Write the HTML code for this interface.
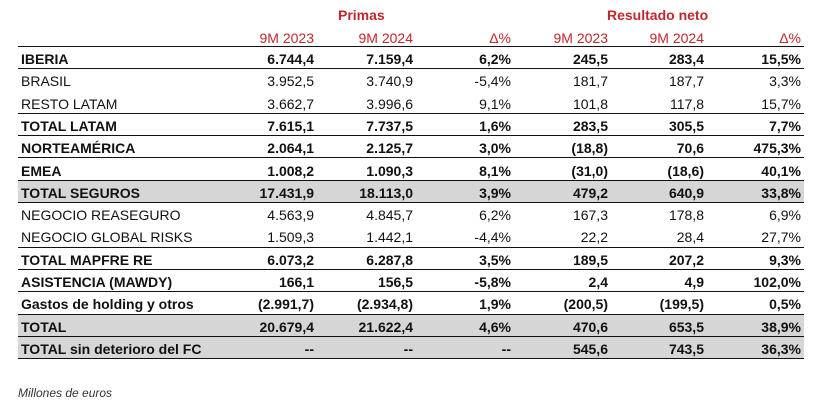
<!DOCTYPE html>
<html><head><meta charset="utf-8"><style>
body{margin:0;width:823px;height:412px;background:#fff;font-family:"Liberation Sans",Arial,sans-serif;color:#111;position:relative;overflow:hidden}
.t{position:absolute;font-size:14px;white-space:nowrap;line-height:16px}
.r{text-align:right}
.red{color:#c0282d}
.row{position:absolute;left:18px;width:786px;height:22.3px;border-bottom:1.5px solid #111;box-sizing:border-box}
.g{background:#d6d6d6}
.b{font-weight:bold}
</style></head><body>
<div class="t b red" style="left:338px;top:7px">Primas</div>
<div class="t b red" style="left:607px;top:7px">Resultado neto</div>
<div id="rows"></div>
<div class="t" style="left:18px;top:385px;font-style:italic;font-size:12px;color:#333">Millones de euros</div>
<script>
const hdr=["9M 2023","9M 2024","Δ%","9M 2023","9M 2024","Δ%"];
const rx=[314,413,511,608,704,801];
const data=[
["IBERIA","6.744,4","7.159,4","6,2%","245,5","283,4","15,5%",1,0,1],
["BRASIL","3.952,5","3.740,9","-5,4%","181,7","187,7","3,3%",0,0,0],
["RESTO LATAM","3.662,7","3.996,6","9,1%","101,8","117,8","15,7%",0,0,1],
["TOTAL LATAM","7.615,1","7.737,5","1,6%","283,5","305,5","7,7%",1,0,1],
["NORTEAMÉRICA","2.064,1","2.125,7","3,0%","(18,8)","70,6","475,3%",1,0,1],
["EMEA","1.008,2","1.090,3","8,1%","(31,0)","(18,6)","40,1%",1,0,1],
["TOTAL SEGUROS","17.431,9","18.113,0","3,9%","479,2","640,9","33,8%",1,1,1],
["NEGOCIO REASEGURO","4.563,9","4.845,7","6,2%","167,3","178,8","6,9%",0,0,0],
["NEGOCIO GLOBAL RISKS","1.509,3","1.442,1","-4,4%","22,2","28,4","27,7%",0,0,1],
["TOTAL MAPFRE RE","6.073,2","6.287,8","3,5%","189,5","207,2","9,3%",1,0,1],
["ASISTENCIA (MAWDY)","166,1","156,5","-5,8%","2,4","4,9","102,0%",1,0,1],
["Gastos de holding y otros","(2.991,7)","(2.934,8)","1,9%","(200,5)","(199,5)","0,5%",1,0,1],
["TOTAL","20.679,4","21.622,4","4,6%","470,6","653,5","38,9%",1,1,1],
["TOTAL sin deterioro del FC","--","--","--","545,6","743,5","36,3%",1,1,1]];
let h='';
hdr.forEach((s,i)=>h+=`<div class="t r red" style="right:${823-rx[i]}px;top:30px">${s}</div>`);
h+=`<div style="position:absolute;left:18px;top:46px;width:786px;border-top:1.5px solid #111"></div>`;
data.forEach((d,k)=>{
 const top=47+k*22.3;
 h+=`<div class="row${d[8]?' g':''}" style="top:${top}px;${d[9]?'':'border-bottom:none'}"></div>`;
 const cls=d[7]?' b':'';
 h+=`<div class="t${cls}" style="left:21px;top:${top+4}px">${d[0]}</div>`;
 for(let i=0;i<6;i++)h+=`<div class="t r${cls}" style="right:${823-rx[i]}px;top:${top+4}px">${d[i+1]}</div>`;
});
document.getElementById('rows').innerHTML=h;
</script>
</body></html>
